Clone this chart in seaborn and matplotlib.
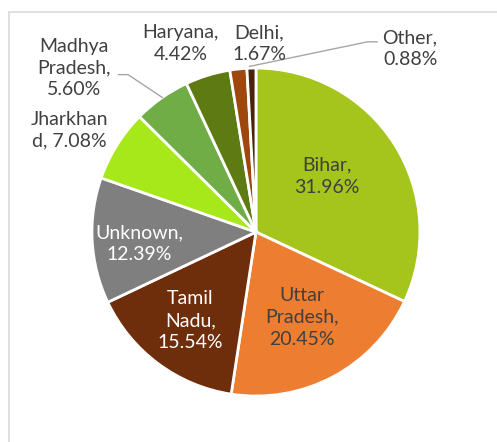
import seaborn as sns
import matplotlib.pyplot as plt
from matplotlib.patches import Rectangle

# values
states = ['Bihar', 'Uttar\nPradesh', 'Tamil\nNadu', 'Unknown', 'Jharkhand', 'Madhya\nPradesh', 'Haryana', 'Delhi', 'Other']
shares = [31.96, 20.45, 15.54, 12.39, 7.08, 5.60, 4.42, 1.67, 0.88]
colors = ['#A5C41C', '#ED7D31', '#6E2D0B', '#7F7F7F', '#A6E81A', '#70AD47', '#5E7A12', '#9E480E', '#4A230A']
text_colors = ['#404040', '#404040', 'white', 'white', '#404040', '#404040', '#404040', '#404040', '#404040']
# label centres (in pie-radius units)
label_pos = [(0.43, 0.34), (0.28, -0.52), (-0.40, -0.54), (-0.71, -0.07), (-1.14, 0.62),
             (-1.11, 1.0), (-0.46, 1.15), (0.02, 1.15), (0.94, 1.12)]

sns.set_style('white')
plt.rcParams['font.family'] = ['Lato', 'DejaVu Sans']

fig = plt.figure(figsize=(4.97, 4.42), dpi=100)
fig.patches.append(Rectangle((9 / 497, -0.1), 1.2, 1 - 12 / 442 + 0.1, transform=fig.transFigure,
                             fill=False, edgecolor='#D9D9D9', linewidth=1.2))

ax = fig.add_axes([0.515 - 0.33, 0.475 - 0.371, 0.66, 0.742])
ax.pie(shares, colors=colors, startangle=90, counterclock=False,
       wedgeprops=dict(edgecolor='white', linewidth=2))

for name, val, pos, tc in zip(states, shares, label_pos, text_colors):
    if name == 'Jharkhand':
        txt = 'Jharkhan\nd, %.2f%%' % val
    else:
        txt = '%s,\n%.2f%%' % (name, val)
    ax.text(pos[0], pos[1], txt, ha='center', va='center', color=tc, fontsize=14, linespacing=1.35)

# leader lines
ax.plot([-0.84, -0.78, -0.57], [0.96, 0.96, 0.82], color='#A6A6A6', lw=1, clip_on=False)
ax.plot([0.74, 0.68, -0.04], [1.16, 1.16, 1.01], color='#A6A6A6', lw=1, clip_on=False)

ax.set_xlim(-1, 1)
ax.set_ylim(-1, 1)
ax.set_aspect('equal')
ax.axis('off')

plt.savefig('out.png', dpi=100)
